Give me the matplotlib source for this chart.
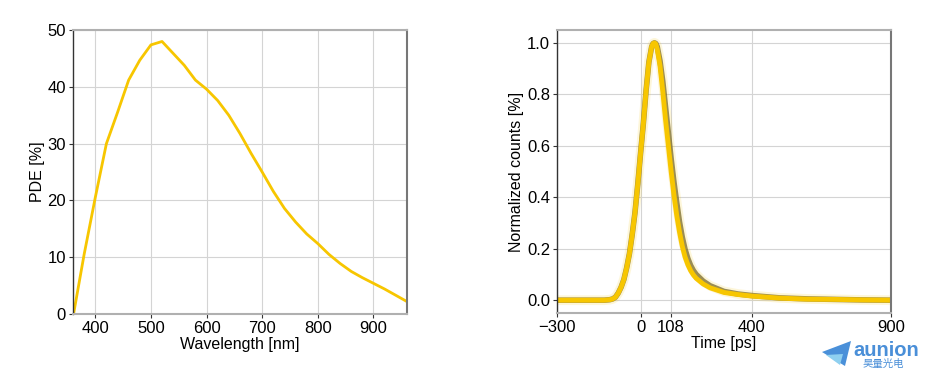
import numpy as np
import matplotlib.pyplot as plt
from matplotlib.patches import Polygon

plt.rcParams['font.family'] = ['Liberation Sans', 'Noto Sans CJK SC', 'DejaVu Sans']

# PDE vs wavelength
wavelength = [361, 380, 400, 420, 440, 460, 480, 500, 520, 540, 560, 580, 600, 620, 640,
              660, 680, 700, 720, 740, 760, 780, 800, 820, 840, 860, 880, 900, 920, 940, 960]
pde = [0.0, 10.5, 20.5, 30.0, 35.5, 41.2, 44.7, 47.4, 48.0, 45.9, 43.8, 41.2, 39.6, 37.6, 35.0,
       31.8, 28.3, 25.0, 21.6, 18.6, 16.2, 14.1, 12.4, 10.5, 8.9, 7.5, 6.4, 5.4, 4.4, 3.3, 2.2]

# timing response (normalized counts)
time_ps = [-300, -200, -150, -130, -120, -110, -100, -90, -80, -70, -60, -50, -40, -30, -20,
           -10, 0, 10, 20, 30, 40, 45, 50, 55, 60, 70, 80, 90, 100, 110, 120, 130, 140, 150,
           160, 170, 180, 190, 200, 225, 250, 300, 350, 400, 500, 600, 700, 800, 900]
counts = [0.0, 0.0, 0.0, 0.0, 0.001, 0.002, 0.005, 0.012, 0.028, 0.05, 0.08, 0.125, 0.18,
          0.255, 0.34, 0.45, 0.57, 0.685, 0.815, 0.925, 0.985, 0.997, 1.0, 0.995, 0.975, 0.91,
          0.81, 0.70, 0.60, 0.50, 0.41, 0.33, 0.265, 0.21, 0.168, 0.138, 0.115, 0.098, 0.085,
          0.063, 0.048, 0.030, 0.022, 0.016, 0.008, 0.004, 0.003, 0.001, 0.0]
counts_slow = [0.0, 0.0, 0.0, 0.0, 0.001, 0.002, 0.005, 0.012, 0.028, 0.05, 0.08, 0.125, 0.18,
               0.255, 0.34, 0.45, 0.57, 0.685, 0.815, 0.925, 0.985, 0.997, 1.0, 0.997, 0.985,
               0.93, 0.85, 0.75, 0.65, 0.55, 0.46, 0.38, 0.305, 0.245, 0.198, 0.162, 0.135,
               0.115, 0.10, 0.074, 0.056, 0.034, 0.024, 0.018, 0.009, 0.005, 0.003, 0.001, 0.0]
time_ticks = [-300, 0, 108, 400, 900]

gold = '#F7C600'

fig = plt.figure(figsize=(9.3, 3.79), dpi=100)
ax1 = fig.add_axes([0.0785, 0.1715, 0.359, 0.749])
ax2 = fig.add_axes([0.599, 0.174, 0.359, 0.747])

for ax in (ax1, ax2):
    ax.grid(True, color='#d4d4d4', linewidth=0.8)
    ax.set_axisbelow(True)
    ax.spines['top'].set_color('#b0b0b0')
    ax.spines['bottom'].set_color('#b0b0b0')
    ax.spines['top'].set_linewidth(1.5)
    ax.spines['bottom'].set_linewidth(1.5)
    ax.spines['left'].set_color('#333333')
    ax.spines['right'].set_color('#777777')
    ax.spines['left'].set_linewidth(1.0)
    ax.spines['right'].set_linewidth(1.5)
    ax.tick_params(labelsize=12, length=3, width=0.8, color='#333333', pad=2)

# left plot
ax1.plot(wavelength, pde, color=gold, linewidth=2)
ax1.set_xlim(360, 960)
ax1.set_ylim(0, 50)
ax1.set_xticks([400, 500, 600, 700, 800, 900])
ax1.set_yticks([0, 10, 20, 30, 40, 50])
ax1.set_xlabel('Wavelength [nm]', fontsize=11.5, labelpad=1)
ax1.set_ylabel('PDE [%]', fontsize=11.5, labelpad=2)

# right plot
ax2.plot(time_ps, counts_slow, color=gold, linewidth=7, alpha=0.15)
ax2.plot(time_ps, counts_slow, color='#7a6a28', linewidth=4, alpha=0.75)
ax2.plot(time_ps, counts, color=gold, linewidth=3.5)
ax2.set_xlim(-300, 900)
ax2.set_ylim(-0.05, 1.05)
ax2.set_xticks(time_ticks)
ax2.set_xticklabels(['\u2212300', '0', '108', '400', '900'])
ax2.set_yticks([0.0, 0.2, 0.4, 0.6, 0.8, 1.0])
ax2.set_xlabel('Time [ps]', fontsize=11.5, labelpad=1)
ax2.set_ylabel('Normalized counts [%]', fontsize=11.5, labelpad=2)

# logo
fig.patches.append(Polygon([[822 / 930, 1 - 352 / 379], [851 / 930, 1 - 341 / 379],
                            [845 / 930, 1 - 366 / 379]], closed=True,
                           transform=fig.transFigure, facecolor='#4a90d9', edgecolor='none'))
fig.patches.append(Polygon([[826 / 930, 1 - 355 / 379], [843 / 930, 1 - 354 / 379],
                            [840 / 930, 1 - 365 / 379]], closed=True,
                           transform=fig.transFigure, facecolor='#8fd0f0', edgecolor='none'))
fig.text(853 / 930, 1 - 351 / 379, 'aunion', color='#4a8fd8', fontsize=14.5, fontweight='bold',
         va='center', ha='left')
fig.text(883 / 930, 1 - 364 / 379, '昊量光电', color='#4a8fd8', fontsize=7.5, va='center', ha='center',
         family=['Noto Sans CJK SC', 'DejaVu Sans'])

fig.savefig('out.png', dpi=100)
